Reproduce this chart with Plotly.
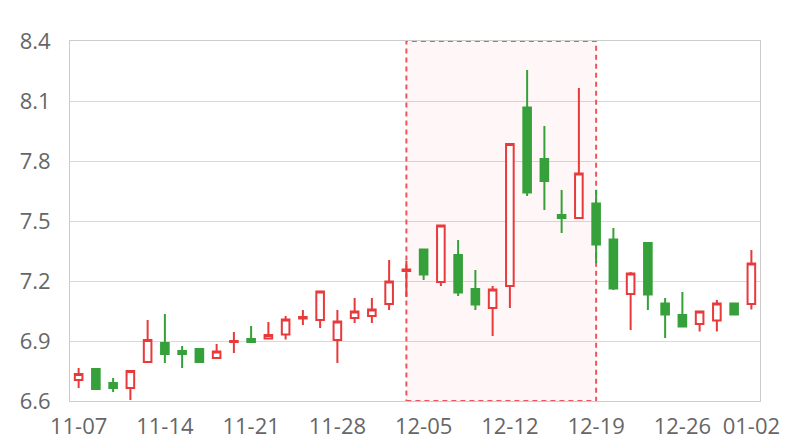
import plotly.graph_objects as go

dates = ["11-07","11-08","11-09","11-10","11-11",
         "11-14","11-15","11-16","11-17","11-18",
         "11-21","11-22","11-23","11-24","11-25",
         "11-28","11-29","11-30","12-01","12-02",
         "12-05","12-06","12-07","12-08","12-09",
         "12-12","12-13","12-14","12-15","12-16",
         "12-19","12-20","12-21","12-22","12-23",
         "12-26","12-27","12-28","12-29","01-02"]

open_ = [6.705, 6.76, 6.69, 6.665, 6.795, 6.89, 6.85, 6.86, 6.815, 6.895,
         6.91, 6.912, 6.932, 7.013, 7.005, 6.905, 7.015, 7.025, 7.085, 7.25,
         7.358, 7.195, 7.33, 7.16, 7.065, 7.175, 8.068, 7.81, 7.53, 7.515,
         7.588, 7.408, 7.135, 7.39, 7.088, 7.03, 6.985, 7.003, 7.088, 7.085]
close = [6.735, 6.66, 6.665, 6.75, 6.905, 6.835, 6.835, 6.795, 6.848, 6.9,
         6.895, 6.93, 7.008, 7.02, 7.148, 6.998, 7.048, 7.058, 7.198, 7.258,
         7.232, 7.478, 7.142, 7.082, 7.158, 7.885, 7.642, 7.70, 7.515, 7.738,
         7.382, 7.162, 7.238, 7.132, 7.032, 6.972, 7.047, 7.087, 7.032, 7.287]
high = [6.765, 6.762, 6.715, 6.755, 7.005, 7.035, 6.875, 6.865, 6.885, 6.945,
        6.975, 6.995, 7.025, 7.055, 7.15, 7.055, 7.115, 7.115, 7.305, 7.3,
        7.36, 7.48, 7.405, 7.255, 7.175, 7.89, 8.255, 7.975, 7.655, 8.165,
        7.655, 7.465, 7.245, 7.395, 7.115, 7.145, 7.053, 7.105, 7.09, 7.355]
low = [6.665, 6.655, 6.645, 6.605, 6.795, 6.79, 6.765, 6.79, 6.812, 6.84,
       6.893, 6.907, 6.908, 6.98, 6.965, 6.79, 6.99, 6.99, 7.055, 7.12,
       7.205, 7.175, 7.125, 7.055, 6.925, 7.065, 7.625, 7.555, 7.44, 7.513,
       7.29, 7.155, 6.955, 7.055, 6.915, 6.968, 6.947, 6.947, 7.027, 7.058]

tick_idx = [0, 5, 10, 15, 20, 25, 30, 35, 39]
y_ticks = [6.6, 6.9, 7.2, 7.5, 7.8, 8.1, 8.4]
highlight = (dates[19], dates[30])

RED = "#E8393B"
GREEN = "#36A03A"

fig = go.Figure(go.Candlestick(
    x=dates, open=open_, high=high, low=low, close=close,
    increasing=dict(line=dict(color=RED, width=2), fillcolor="white"),
    decreasing=dict(line=dict(color=GREEN, width=2), fillcolor=GREEN),
    whiskerwidth=0, showlegend=False, hoverinfo="skip",
))

fig.add_shape(type="rect", xref="x", yref="y",
              x0=highlight[0], x1=highlight[1], y0=y_ticks[0], y1=y_ticks[-1],
              fillcolor="rgba(255,0,0,0.03)",
              line=dict(color="#F0545A", width=2, dash="5px,4px"),
              layer="between")

fig.update_layout(
    width=800, height=440,
    margin=dict(l=62, r=48, t=33, b=47),
    paper_bgcolor="white", plot_bgcolor="white",
    font=dict(family="Open Sans", size=22, color="#666666"),
    boxgap=0.37,
    xaxis=dict(type="category", range=[-0.5, len(dates) - 0.5],
               rangeslider=dict(visible=False), automargin=False,
               tickmode="array", tickvals=[dates[i] for i in tick_idx],
               ticktext=[dates[i] for i in tick_idx],
               showgrid=False, showline=True, linecolor="#CCCCCC", linewidth=1,
               mirror=True, ticks="", ticklabelstandoff=6),
    yaxis=dict(range=[y_ticks[0], y_ticks[-1]], tickvals=y_ticks, tickformat=".1f",
               automargin=False,
               showgrid=True, gridcolor="#D9D9D9", gridwidth=1,
               showline=True, linecolor="#CCCCCC", linewidth=1, mirror=True,
               zeroline=False, ticks="", ticklabelstandoff=14),
)

fig.write_html("out.html")
